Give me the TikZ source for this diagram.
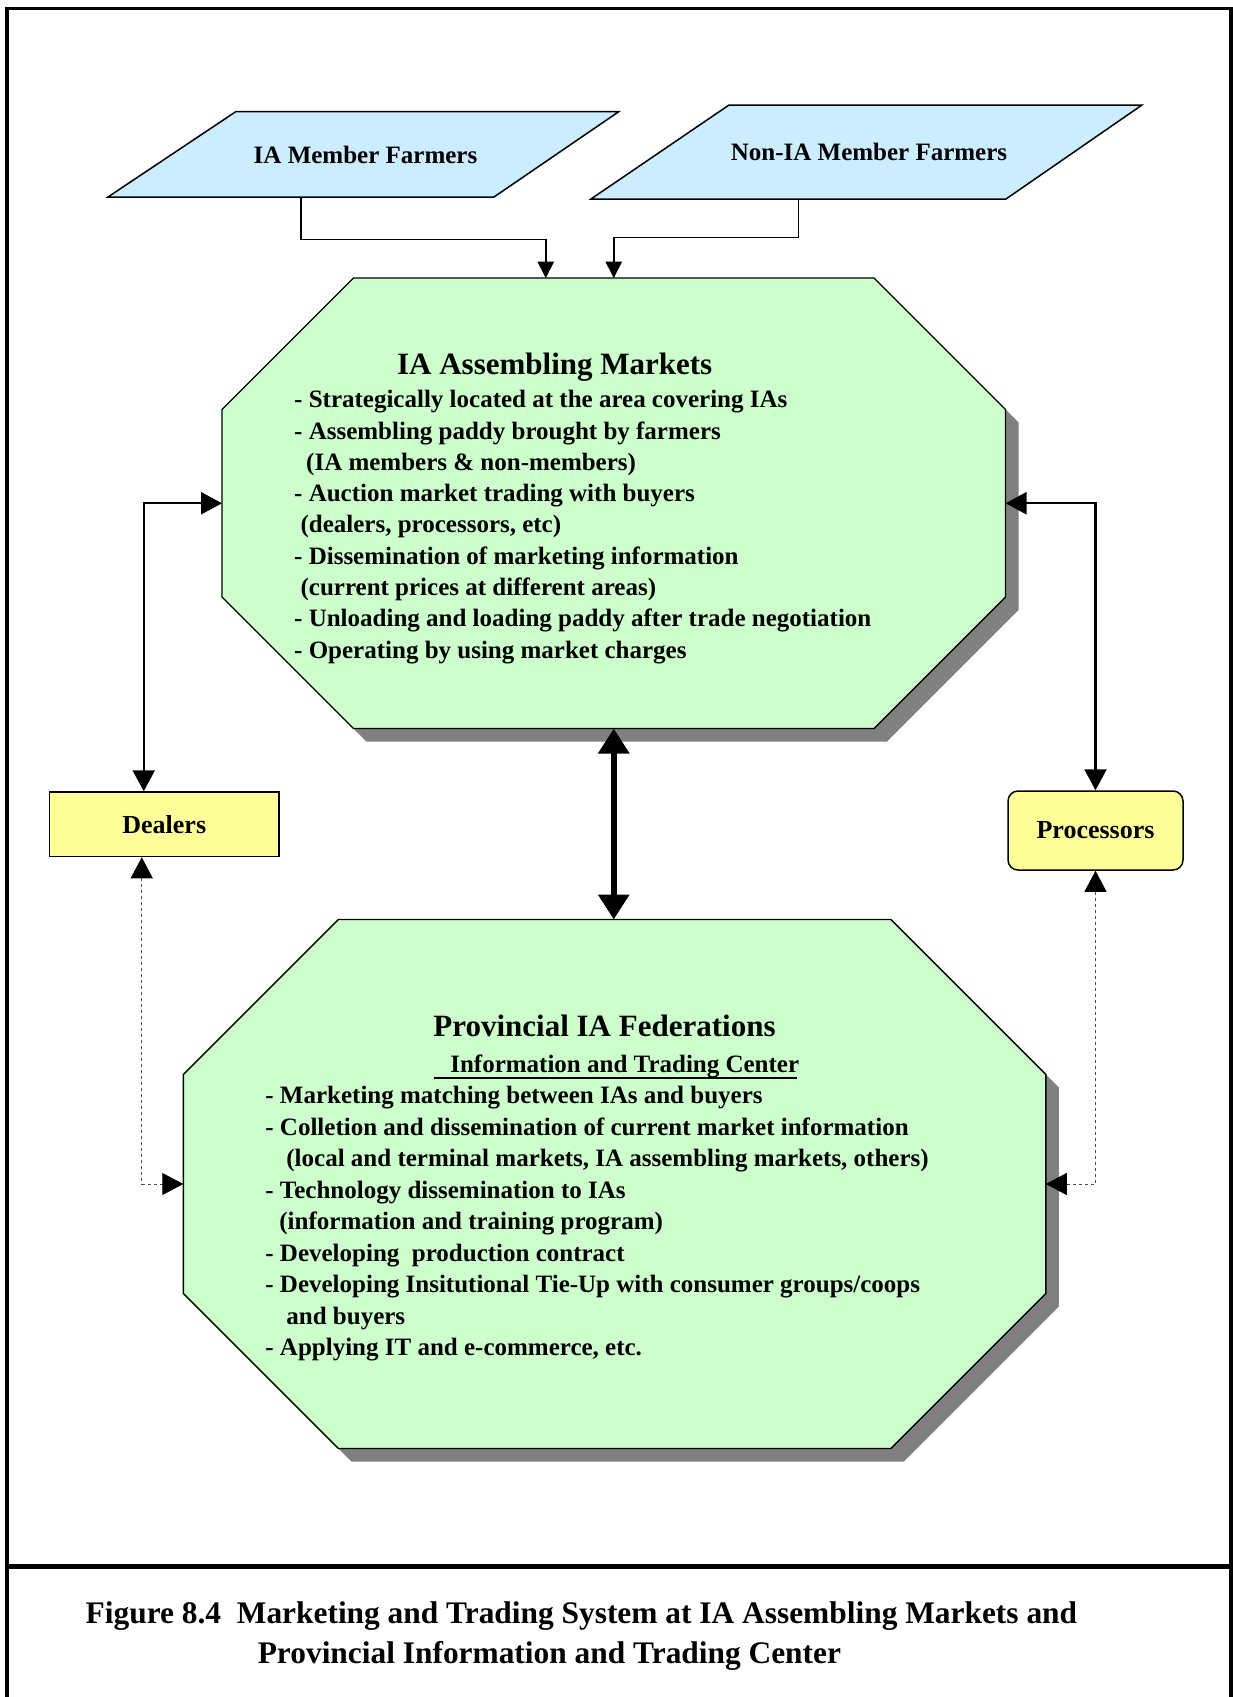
\documentclass[tikz,border=0pt]{standalone}
\usepackage{fontspec}
\setmainfont{Liberation Serif}
\usetikzlibrary{arrows.meta,calc}

\definecolor{farmblue}{HTML}{CCECFF}
\definecolor{mktgreen}{HTML}{CCFFCC}
\definecolor{buyeryellow}{HTML}{FFFF99}
\definecolor{shadowgray}{HTML}{808080}

% chamfered outline around a rectangular node: #1 node, #2 corner cut, #3 offset
\newcommand\octagonpath[3]{%
  ($(#1.north west)+(#2+#3,#3)$) -- ($(#1.north east)+(-#2+#3,#3)$) --
  ($(#1.north east)+(#3,#2+#3)$) -- ($(#1.south east)+(#3,-#2+#3)$) --
  ($(#1.south east)+(-#2+#3,#3)$) -- ($(#1.south west)+(#2+#3,#3)$) --
  ($(#1.south west)+(#3,-#2+#3)$) -- ($(#1.north west)+(#3,#2+#3)$) -- cycle}

\tikzset{
  region/.style={rectangle, draw=none, fill=none, inner sep=0pt, outer sep=0pt},
  octshape/.style={fill=mktgreen, draw=black, line width=1.4pt, line join=miter},
  farmshape/.style={fill=farmblue, draw=black, line width=1.5pt, line join=miter},
  buyerbox/.style={rectangle, fill=buyeryellow, draw=black, line width=1.5pt,
    inner sep=0pt, font=\fontsize{26}{30}\selectfont\bfseries},
  bodytxt/.style={inner sep=0pt, anchor=base west, font=\fontsize{25}{31}\selectfont\bfseries},
  labeltxt/.style={inner sep=0pt, anchor=base, font=\fontsize{25}{31}\selectfont\bfseries},
  titletxt/.style={inner sep=0pt, anchor=base, font=\fontsize{31}{37}\selectfont\bfseries},
  captiontxt/.style={inner sep=0pt, anchor=base west, font=\fontsize{31.4}{40}\selectfont\bfseries},
  farmarrow/.style={line width=1.6pt, -{Triangle[length=16.5pt,width=16.5pt]}},
  sidearrow/.style={line width=2.3pt,
    {Triangle[length=21pt,width=22pt]}-{Triangle[length=21pt,width=22pt]}},
  bigarrow/.style={line width=6.5pt,
    {Triangle[length=25pt,width=30pt]}-{Triangle[length=25pt,width=30pt]}},
  dotarrow/.style={line width=1pt, black!70, dash pattern=on 3pt off 3pt,
    {Triangle[length=21pt,width=22pt,color=black]}-{Triangle[length=21pt,width=22pt,color=black]}}
}

\begin{document}
\begin{tikzpicture}[x=1pt,y=-1pt]
\useasboundingbox (0,0) rectangle (1233,1697);
\fill[white] (0,0) rectangle (1233,1697);

% page frame and caption divider
\draw[line width=3.5pt] (7,1697) -- (7,8.3) -- (1231,8.3) -- (1231,1697);
\draw[line width=4.5pt] (7,1566.7) -- (1231,1566.7);

% ---------- farmer groups ----------
\node[region, minimum width=511pt, minimum height=85.5pt] (farmA) at (363.5,154.25) {};
\filldraw[farmshape] ($(farmA.north west)+(128,0)$) -- (farmA.north east) --
  ($(farmA.south east)+(-125,0)$) -- (farmA.south west) -- cycle;
\node[labeltxt] (farmA-label) at (365.5,163.3) {IA Member Farmers};
\coordinate (farmA-out) at ($(farmA.south west)+(193,0)$);

\node[region, minimum width=551pt, minimum height=94pt] (farmB) at (866.5,152) {};
\filldraw[farmshape] ($(farmB.north west)+(138,0)$) -- (farmB.north east) --
  ($(farmB.south east)+(-136,0)$) -- (farmB.south west) -- cycle;
\node[labeltxt] (farmB-label) at (869,160) {Non-IA Member Farmers};
\coordinate (farmB-out) at ($(farmB.south west)+(207.5,0)$);

% ---------- IA Assembling Markets ----------
\node[region, minimum width=783.5pt, minimum height=450.5pt] (ocA) at (613.75,503.25) {};
\fill[shadowgray] \octagonpath{ocA}{131.5}{13};
\filldraw[octshape] \octagonpath{ocA}{131.5}{0};
\coordinate (ocA-inL) at ($(ocA.north)+(-68,0)$);

\node[titletxt] (ocA-title) at (554.7,374.3) {IA Assembling Markets};
\foreach \dx/\t [count=\i] in {
  0/{- Strategically located at the area covering IAs},
  0/{- Assembling paddy brought by farmers},
  12/{(IA members \& non-members)},
  0/{- Auction market trading with buyers},
  6.4/{(dealers, processors, etc)},
  0/{- Dissemination of marketing information},
  6.4/{(current prices at different areas)},
  0/{- Unloading and loading paddy after trade negotiation},
  0/{- Operating by using market charges}}
  \node[bodytxt] (ocA-line\i) at (294+\dx, 407.7+31.3*\i-31.3) {\t};

% ---------- Provincial IA Federations ----------
\node[region, minimum width=862.5pt, minimum height=529pt] (ocB) at (614.55,1184) {};
\fill[shadowgray] \octagonpath{ocB}{155}{13};
\filldraw[octshape] \octagonpath{ocB}{155}{0};

\node[titletxt] (ocB-title) at (604.5,1036.4) {Provincial IA Federations};
\node[labeltxt] (ocB-sub) at (624.75,1072) {Information and Trading Center};
\draw[line width=2pt] ($(ocB-sub.base west)+(-16,5.5)$) -- ($(ocB-sub.base east)+(-2,5.5)$);
\foreach \dx/\t [count=\i] in {
  0/{- Marketing matching between IAs and buyers},
  0/{- Colletion and dissemination of current market information},
  21/{(local and terminal markets, IA assembling markets, others)},
  0/{- Technology dissemination to IAs},
  14/{(information and training program)},
  0/{- Developing~ production contract},
  0/{- Developing Insitutional Tie-Up with consumer groups/coops},
  21/{and buyers},
  0/{- Applying IT and e-commerce, etc.}}
  \node[bodytxt] (ocB-line\i) at (265.2+\dx, 1103.6+31.5*\i-31.5) {\t};

% ---------- buyers ----------
\node[buyerbox, minimum width=229.5pt, minimum height=64.5pt] (dealers) at (164.25,824.25) {Dealers};
\node[buyerbox, rounded corners=10pt, minimum width=175pt, minimum height=79pt] (processors) at (1095.5,830.5) {Processors};
\coordinate (dealers-in) at ($(dealers.north west)+(95,0)$);
\coordinate (dealers-out) at ($(dealers.south west)+(93,0)$);

% ---------- connectors ----------
\draw[farmarrow] (farmA-out) -- ++(0,42.3) -| (ocA-inL);
\draw[farmarrow] (farmB-out) -- ++(0,38.3) -| (ocA.north);

\draw[sidearrow] (ocA.west) -| (dealers-in);
\draw[sidearrow] (ocA.east) -| (processors.north);

\draw[bigarrow] (ocA.south) -- (ocA.south |- ocB.north);

\draw[dotarrow] (dealers-out) |- (ocB.west);
\draw[dotarrow] (processors.south) |- (ocB.east);

% ---------- caption ----------
\node[captiontxt] (cap1) at (85.5,1623) {Figure 8.4~ Marketing and Trading System at IA Assembling Markets and};
\node[captiontxt] (cap2) at (257.6,1663) {Provincial Information and Trading Center};
\end{tikzpicture}
\end{document}
